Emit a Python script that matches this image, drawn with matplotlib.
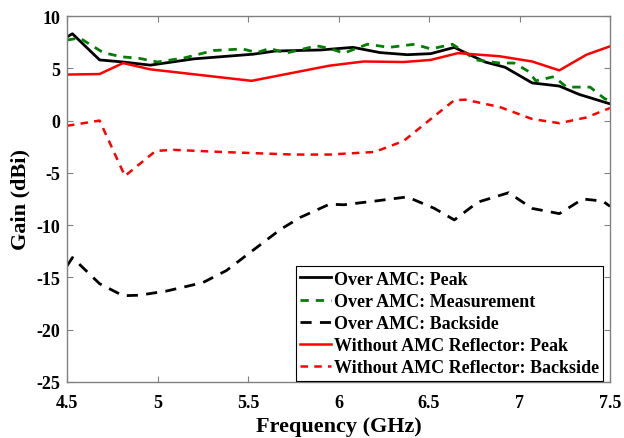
import matplotlib
matplotlib.use("Agg")
import matplotlib.pyplot as plt

# Over AMC: Peak
amc_peak_x = [4.5, 4.53, 4.68, 4.81, 4.96, 5.2, 5.53, 5.65, 5.9, 6.08, 6.23, 6.38, 6.51, 6.64, 6.70, 6.81, 6.92, 7.07, 7.22, 7.33, 7.5]
amc_peak_y = [8.0, 8.3, 5.8, 5.6, 5.3, 5.9, 6.35, 6.65, 6.75, 7.0, 6.5, 6.3, 6.4, 7.0, 6.5, 5.6, 5.1, 3.6, 3.3, 2.5, 1.6]

# Over AMC: Measurement
amc_meas_x = [4.5, 4.57, 4.70, 4.80, 4.90, 5.0, 5.15, 5.31, 5.47, 5.55, 5.62, 5.71, 5.88, 5.95, 6.03, 6.16, 6.28, 6.42, 6.51, 6.63, 6.76, 6.89, 6.97, 7.05, 7.09, 7.19, 7.26, 7.39, 7.47, 7.5]
amc_meas_y = [7.7, 7.9, 6.5, 6.1, 5.95, 5.6, 6.0, 6.7, 6.85, 6.5, 6.9, 6.45, 7.15, 6.9, 6.45, 7.3, 7.0, 7.3, 6.85, 7.3, 5.8, 5.5, 5.5, 4.7, 3.8, 4.2, 3.2, 3.2, 2.1, 1.9]

# Over AMC: Backside
amc_back_x = [4.5, 4.53, 4.68, 4.81, 4.90, 5.05, 5.25, 5.38, 5.49, 5.68, 5.79, 5.95, 6.03, 6.20, 6.38, 6.53, 6.64, 6.77, 6.94, 7.07, 7.22, 7.35, 7.46, 7.5]
amc_back_y = [-13.9, -13.1, -15.6, -16.75, -16.7, -16.3, -15.5, -14.35, -12.9, -10.4, -9.25, -8.0, -8.05, -7.7, -7.3, -8.4, -9.5, -7.8, -6.9, -8.4, -8.9, -7.5, -7.7, -8.2]

# Without AMC Reflector: Peak
noamc_peak_x = [4.5, 4.68, 4.81, 4.96, 5.52, 5.95, 6.14, 6.36, 6.51, 6.66, 6.89, 7.07, 7.22, 7.37, 7.5]
noamc_peak_y = [4.4, 4.45, 5.5, 4.9, 3.8, 5.25, 5.65, 5.6, 5.8, 6.45, 6.15, 5.65, 4.8, 6.3, 7.1]

# Without AMC Reflector: Backside
noamc_back_x = [4.5, 4.68, 4.82, 4.99, 5.09, 5.35, 5.75, 5.95, 6.20, 6.36, 6.51, 6.64, 6.70, 6.89, 7.07, 7.22, 7.37, 7.5]
noamc_back_y = [-0.5, 0.0, -5.3, -2.9, -2.8, -3.0, -3.25, -3.25, -3.0, -1.95, 0.15, 1.95, 2.0, 1.3, 0.15, -0.25, 0.3, 1.2]

labels = ["Over AMC: Peak", "Over AMC: Measurement", "Over AMC: Backside",
          "Without AMC Reflector: Peak", "Without AMC Reflector: Backside"]

xticks = [4.5, 5, 5.5, 6, 6.5, 7, 7.5]
xtick_labels = ["4.5", "5", "5.5", "6", "6.5", "7", "7.5"]
yticks = [-25, -20, -15, -10, -5, 0, 5, 10]
ytick_labels = ["-25", "-20", "-15", "-10", "-5", "0", "5", "10"]

plt.rcParams['font.family'] = ['Liberation Serif', 'DejaVu Serif']
plt.rcParams['font.weight'] = 'bold'
plt.rcParams['axes.unicode_minus'] = False

fig = plt.figure(figsize=(6.24, 4.39), dpi=100)
ax = fig.add_axes([67/624, 1 - 383/439, (610 - 67)/624, (383 - 17)/439])

ax.plot(amc_peak_x, amc_peak_y, color='black', lw=2.0, ls='-', label=labels[0])
ax.plot(amc_meas_x, amc_meas_y, color='#007f00', lw=2.0, ls=(0, (3, 2.5)), label=labels[1])
ax.plot(amc_back_x, amc_back_y, color='black', lw=2.0, ls=(0, (4, 3)), label=labels[2])
ax.plot(noamc_peak_x, noamc_peak_y, color='#ff0000', lw=1.8, ls='-', label=labels[3])
ax.plot(noamc_back_x, noamc_back_y, color='#ff0000', lw=1.8, ls=(0, (3, 2.5)), label=labels[4])

ax.set_xlim(4.5, 7.5)
ax.set_ylim(-25, 10)
ax.set_xticks(xticks)
ax.set_xticklabels(xtick_labels)
ax.set_yticks(yticks)
ax.set_yticklabels(ytick_labels)

for s in ax.spines.values():
    s.set_color('#808080')
    s.set_linewidth(1.0)
ax.tick_params(direction='in', top=True, right=True, length=4, width=0.8,
               color='#808080', labelsize=13)
ax.tick_params(axis='x', pad=8.5)
ax.tick_params(axis='y', pad=5)
for lab in ax.get_xticklabels() + ax.get_yticklabels():
    lab.set_fontweight('bold')

ax.set_xlabel("Frequency (GHz)", fontsize=16, fontweight='bold', labelpad=4)
ax.set_ylabel("Gain (dBi)", fontsize=16, fontweight='bold', labelpad=4)

leg = ax.legend(loc='lower right', bbox_to_anchor=(0.988, 0.004),
                prop={'weight': 'bold', 'size': 13},
                frameon=True, fancybox=False, framealpha=1, edgecolor='black',
                handlelength=1.7, handletextpad=0.15, borderpad=0.25, labelspacing=0.28,
                borderaxespad=0.0)
leg.get_frame().set_linewidth(0.8)

fig.savefig("out.png", dpi=100)
